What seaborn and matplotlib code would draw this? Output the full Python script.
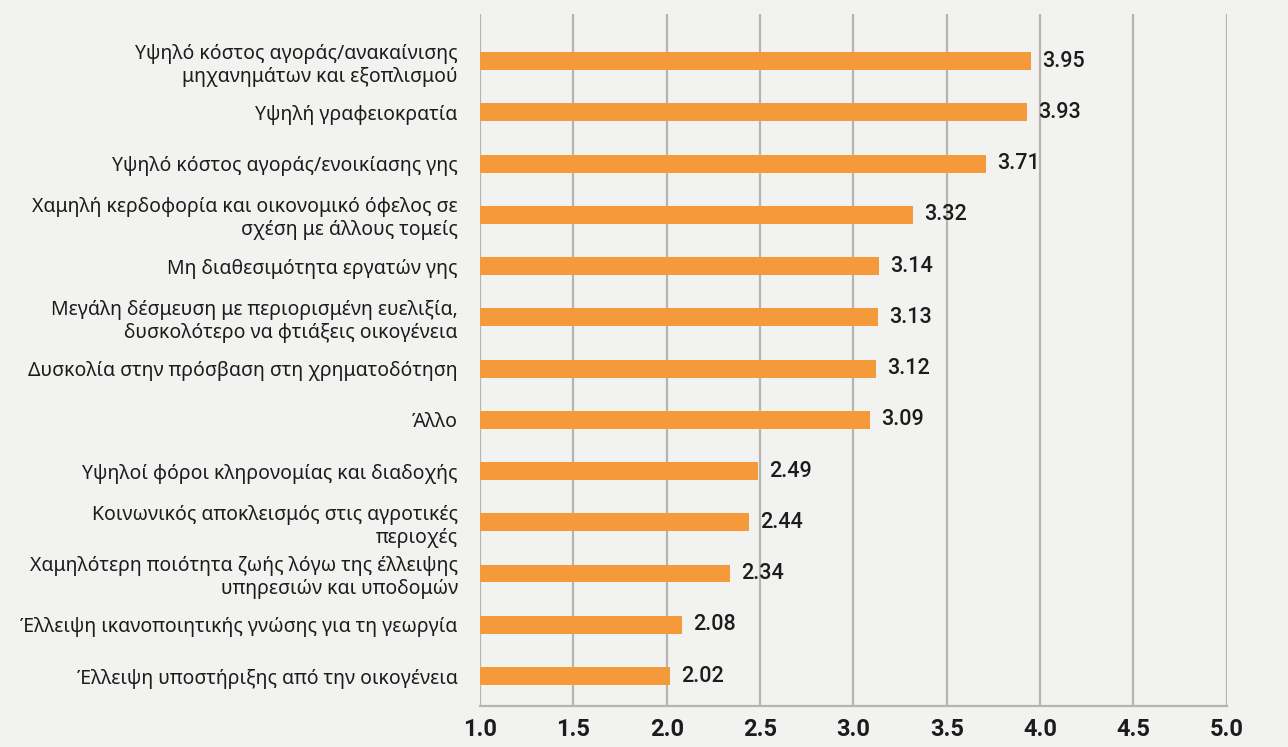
import matplotlib
matplotlib.use("Agg")
import matplotlib.pyplot as plt
import pandas as pd
import seaborn as sns

# data
labels = [
    "Υψηλό κόστος αγοράς/ανακαίνισης\nμηχανημάτων και εξοπλισμού",
    "Υψηλή γραφειοκρατία",
    "Υψηλό κόστος αγοράς/ενοικίασης γης",
    "Χαμηλή κερδοφορία και οικονομικό όφελος σε\nσχέση με άλλους τομείς",
    "Μη διαθεσιμότητα εργατών γης",
    "Μεγάλη δέσμευση με περιορισμένη ευελιξία,\nδυσκολότερο να φτιάξεις οικογένεια",
    "Δυσκολία στην πρόσβαση στη χρηματοδότηση",
    "Άλλο",
    "Υψηλοί φόροι κληρονομίας και διαδοχής",
    "Κοινωνικός αποκλεισμός στις αγροτικές\nπεριοχές",
    "Χαμηλότερη ποιότητα ζωής λόγω της έλλειψης\nυπηρεσιών και υποδομών",
    "Έλλειψη ικανοποιητικής γνώσης για τη γεωργία",
    "Έλλειψη υποστήριξης από την οικογένεια",
]
scores = [3.95, 3.93, 3.71, 3.32, 3.14, 3.13, 3.12, 3.09, 2.49, 2.44, 2.34, 2.08, 2.02]
x_ticks = [1.0, 1.5, 2.0, 2.5, 3.0, 3.5, 4.0, 4.5, 5.0]

BG = "#f2f2f1"
BAR = "#f59a3b"
GRID = "#b8b3b0"
TXT = "#1c1c1c"
NUM_FONT = ["Roboto", "DejaVu Sans"]

sns.set_theme(style="white")
plt.rcParams["font.family"] = ["Noto Sans", "DejaVu Sans"]

df = pd.DataFrame({"label": labels, "score": scores})

fig = plt.figure(figsize=(12.88, 7.47), dpi=100, facecolor=BG)
ax = fig.add_axes([0.3727, 0.0549, 0.9524 - 0.3727, 0.9813 - 0.0549])
ax.set_facecolor(BG)

sns.barplot(data=df, y="label", x="score", orient="h", color=BAR,
            saturation=1, width=0.35, linewidth=0, ax=ax, zorder=3)

ax.set_xlim(1.0, 5.0)
ax.set_ylim(len(labels) - 1 + 0.585, -0.92)
ax.set_xticks(x_ticks)
ax.set_xticklabels([f"{t:.1f}" for t in x_ticks], family=NUM_FONT,
                   fontweight="bold", fontsize=17, color=TXT)
ax.tick_params(axis="x", length=0, pad=9)
ax.tick_params(axis="y", length=0, pad=16, labelsize=14, labelcolor=TXT)
for lab in ax.get_yticklabels():
    lab.set_horizontalalignment("right")

ax.xaxis.grid(True, color=GRID, linewidth=1.6, zorder=0)
ax.set_axisbelow(True)
for side in ["top", "right", "left"]:
    ax.spines[side].set_visible(False)
ax.spines["bottom"].set_color(GRID)
ax.spines["bottom"].set_linewidth(1.6)
ax.set_xlabel("")
ax.set_ylabel("")

for i, v in enumerate(scores):
    ax.annotate(f"{v:.2f}", xy=(v, i), xytext=(8, 0), textcoords="offset points",
                va="center", ha="left", fontsize=15.5, fontweight="medium",
                family=NUM_FONT, color=TXT)

fig.savefig("out.png", dpi=100, facecolor=BG)
